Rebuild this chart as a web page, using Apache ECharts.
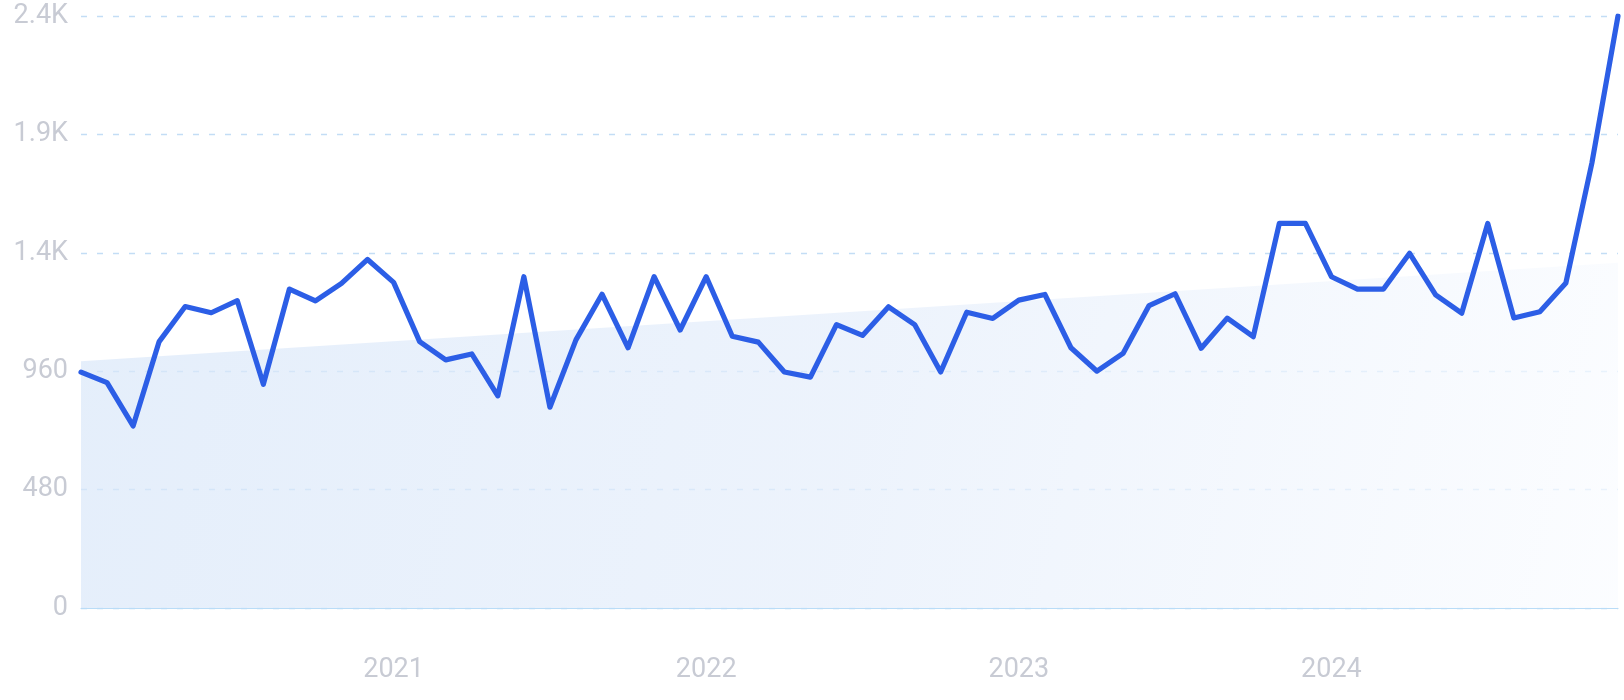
<!DOCTYPE html>
<html>
<head>
<meta charset="utf-8">
<script src="https://cdn.jsdelivr.net/npm/echarts@6/dist/echarts.min.js"></script>
<style>
  html, body { margin: 0; padding: 0; background: #ffffff; }
  #chart { width: 1624px; height: 700px; }
</style>
</head>
<body>
<div id="chart"></div>
<script>
// ---- data ----
const months = [
  '2020-01','2020-02','2020-03','2020-04','2020-05','2020-06','2020-07','2020-08','2020-09','2020-10','2020-11','2020-12',
  '2021-01','2021-02','2021-03','2021-04','2021-05','2021-06','2021-07','2021-08','2021-09','2021-10','2021-11','2021-12',
  '2022-01','2022-02','2022-03','2022-04','2022-05','2022-06','2022-07','2022-08','2022-09','2022-10','2022-11','2022-12',
  '2023-01','2023-02','2023-03','2023-04','2023-05','2023-06','2023-07','2023-08','2023-09','2023-10','2023-11','2023-12',
  '2024-01','2024-02','2024-03','2024-04','2024-05','2024-06','2024-07','2024-08','2024-09','2024-10','2024-11','2024-12'
];
const volume = [
  956, 914, 738, 1080, 1222, 1197, 1246, 907, 1293, 1245, 1316, 1413,
  1320, 1080, 1006, 1030, 860, 1343, 814, 1087, 1272, 1055, 1343, 1127,
  1343, 1102, 1078, 957, 936, 1149, 1105, 1221, 1149, 957, 1199, 1174,
  1248, 1271, 1055, 960, 1032, 1226, 1274, 1053, 1175, 1100, 1559, 1559,
  1343, 1293, 1293, 1438, 1269, 1195, 1559, 1176, 1201, 1318, 1805, 2400
];
const trendStart = 1000;
const trendEnd = 1400;
const yTicks = [0, 480, 960, 1440, 1920, 2400];
const yearLabels = ['2021', '2022', '2023', '2024'];

// trend: only the two end values, the library joins them with a straight segment
const trend = months.map((m, i) => i === 0 ? trendStart : (i === months.length - 1 ? trendEnd : null));

const labelFont = { color: '#c8cbd4', fontSize: 27, fontFamily: 'Roboto, "Noto Sans", sans-serif', fontWeight: 'normal' };

const chart = echarts.init(document.getElementById('chart'), null, { renderer: 'canvas' });
chart.setOption({
  animation: false,
  backgroundColor: '#ffffff',
  grid: { left: 81, right: 6, top: 16, bottom: 92, containLabel: false, outerBoundsMode: 'none' },
  xAxis: {
    type: 'category',
    data: months,
    boundaryGap: false,
    axisLine: { show: true, lineStyle: { color: '#b9dcf7', width: 1.2 } },
    axisTick: { show: false },
    splitLine: { show: false },
    axisLabel: Object.assign({
      margin: 49,
      interval: (idx, val) => yearLabels.indexOf(String(val).slice(0, 4)) >= 0 && String(val).slice(5) === '01',
      formatter: (val) => String(val).slice(0, 4)
    }, labelFont)
  },
  yAxis: {
    type: 'value',
    min: yTicks[0],
    max: yTicks[yTicks.length - 1],
    interval: yTicks[1] - yTicks[0],
    axisLine: { show: false },
    axisTick: { show: false },
    splitLine: { show: true, lineStyle: { color: '#c3ddf5', width: 1.3, type: [6, 10] } },
    axisLabel: Object.assign({
      margin: 13,
      formatter: (v) => v >= 1000 ? (v / 1000).toFixed(1) + 'K' : String(v)
    }, labelFont)
  },
  series: [
    {
      name: 'trend',
      type: 'line',
      data: trend,
      connectNulls: true,
      showSymbol: false,
      symbol: 'none',
      silent: true,
      z: 1,
      lineStyle: { width: 0, opacity: 0 },
      areaStyle: {
        origin: 'start',
        color: new echarts.graphic.LinearGradient(0, 0, 1, 1, [
          { offset: 0, color: '#d9e7f9' },
          { offset: 0.5, color: '#e5eefb' },
          { offset: 1, color: '#fafcff' }
        ])
      }
    },
    {
      name: 'volume',
      type: 'line',
      data: volume,
      showSymbol: false,
      symbol: 'none',
      smooth: false,
      z: 3,
      lineStyle: { color: '#2c5ee6', width: 5.2, join: 'round', cap: 'round' }
    }
  ]
});
</script>
</body>
</html>
